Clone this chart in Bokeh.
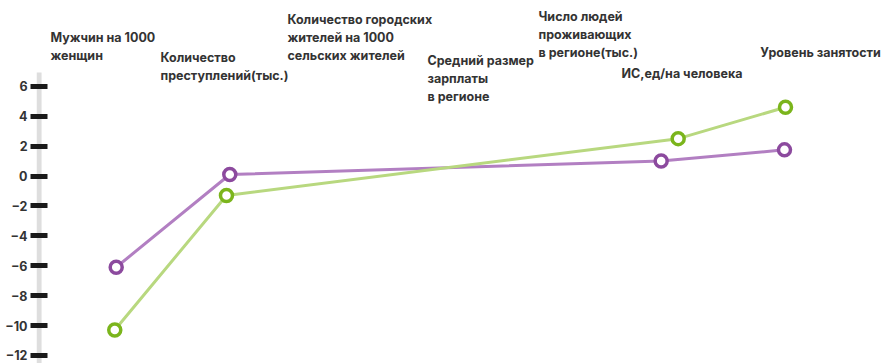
from bokeh.plotting import figure
from bokeh.models import Range1d, FixedTicker, LabelSet, ColumnDataSource
from bokeh.embed import file_html
from bokeh.resources import INLINE
from bokeh.core.properties import value

# ---- data ----
categories = [
    "Мужчин на 1000\nженщин",
    "Количество\nпреступлений(тыс.)",
    "Количество городских\nжителей на 1000\nсельских жителей",
    "Средний размер\nзарплаты\nв регионе",
    "Число людей\nпроживающих\nв регионе(тыс.)",
    "ИС,ед/на человека",
    "Уровень занятости",
]
purple_x = [9.41, 22.82, 73.75, 88.31]
purple_y = [-6.1, 0.1, 1.0, 1.75]
green_x = [9.24, 22.43, 75.76, 88.43]
green_y = [-10.3, -1.3, 2.5, 4.6]
y_ticks = [6, 4, 2, 0, -2, -4, -6, -8, -10, -12]
axis_top = 6.92

# ---- layout positions for category labels (x in data units, y = top of text) ----
label_x = [1.65, 14.64, 29.63, 46.16, 59.27, 69.07, 85.45]
label_y = [9.75, 8.4, 10.95, 8.25, 11.15, 7.35, 8.75]

FONT = "Inter"
TXT = "#333333"
Y0, Y1 = -12.54, 11.74

p = figure(width=883, height=363, output_backend="svg", toolbar_location=None,
           x_range=Range1d(0, 100), y_range=Range1d(Y0, Y1),
           min_border_left=36, min_border_right=0, min_border_top=0,
           min_border_bottom=0)
p.outline_line_color = None
p.background_fill_color = "white"
p.border_fill_color = "white"
p.xgrid.visible = False
p.ygrid.visible = False
p.xaxis.visible = False

# grey axis band (drawn below the axis ticks)
p.quad(left=[0], right=[0.6], bottom=[Y0], top=[axis_top],
       fill_color="#dedede", line_color=None)

ya = p.yaxis[0]
ya.ticker = FixedTicker(ticks=y_ticks)
ya.axis_line_color = None
ya.major_tick_line_color = "#1a1a1a"
ya.major_tick_line_width = 5
ya.major_tick_out = 6
ya.major_tick_in = 11
ya.minor_tick_line_color = None
ya.major_label_standoff = 3
ya.major_label_text_font = FONT
ya.major_label_text_font_style = "bold"
ya.major_label_text_font_size = "12.5px"
ya.major_label_text_color = TXT

# lines
p.line(purple_x, purple_y, line_color="#b27fc2", line_width=3)
p.line(green_x, green_y, line_color="#b8d87f", line_width=3)
p.scatter(purple_x, purple_y, size=12, fill_color="white", line_color="#8c4a9e", line_width=3.5)
p.scatter(green_x, green_y, size=12, fill_color="white", line_color="#7bb51c", line_width=3.5)

src = ColumnDataSource(dict(x=label_x, y=label_y, text=categories))
labels = LabelSet(x="x", y="y", text="text", source=src,
                  text_font=value(FONT), text_font_style="bold",
                  text_font_size="12.5px", text_color=TXT,
                  text_align="left", text_baseline="top",
                  text_line_height=1.2)
p.add_layout(labels)

open("out.html", "w").write(file_html(p, INLINE))
